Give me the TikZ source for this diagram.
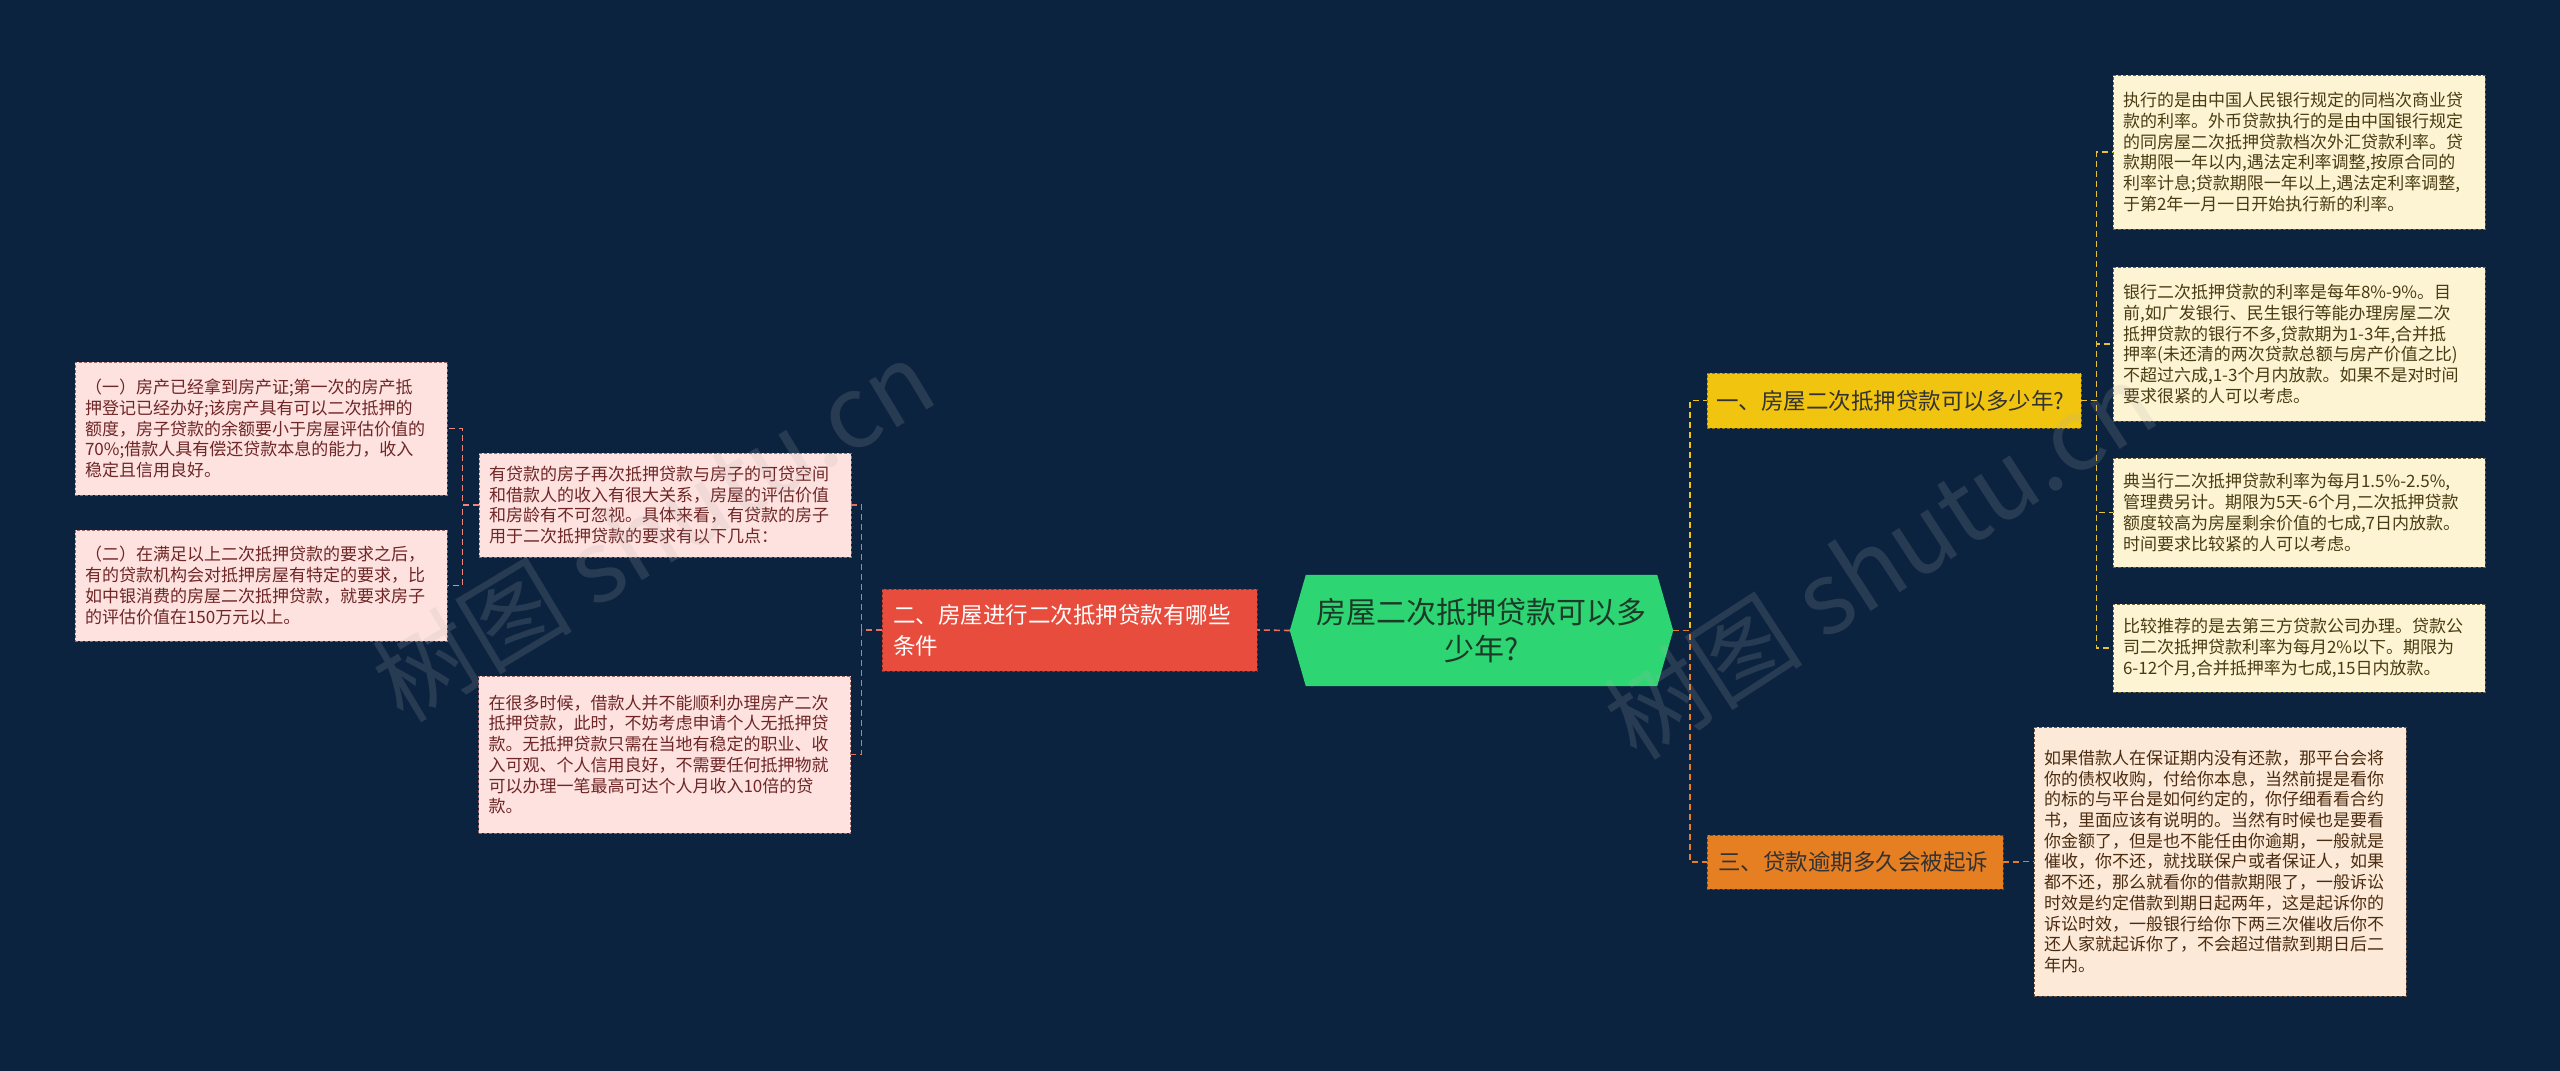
\documentclass[tikz,border=0pt]{standalone}
\usepackage{fontspec}
\setmainfont{Noto Sans CJK SC}
\usetikzlibrary{backgrounds}
\definecolor{bgnavy}{HTML}{0C2340}
\definecolor{rootgreen}{HTML}{2ED573}
\definecolor{roottext}{HTML}{1C3A28}
\definecolor{redfill}{HTML}{E74C3C}
\definecolor{redline}{HTML}{E8705F}
\definecolor{pinkfill}{HTML}{FDE2DF}
\definecolor{pinktext}{HTML}{6E2626}
\definecolor{yellowfill}{HTML}{F1C40F}
\definecolor{yellowline}{HTML}{E6C23A}
\definecolor{orangefill}{HTML}{E67E22}
\definecolor{creamfill}{HTML}{FDF4D3}
\definecolor{creamtext}{HTML}{4A3C12}
\definecolor{peachfill}{HTML}{FCE9D7}
\definecolor{peachtext}{HTML}{4B2C12}
\tikzset{
  leaf/.style={draw, dash pattern=on 3pt off 2pt, line width=0.9pt, inner xsep=10pt,
    inner ysep=0pt, text width=352pt, align=left, font=\fontsize{17}{20.7}\selectfont},
  leafpink/.style={leaf, fill=pinkfill, draw=pinktext!70, text=pinktext},
  leafcream/.style={leaf, fill=creamfill, draw=creamtext!80, text=creamtext},
  leafpeach/.style={leaf, fill=peachfill, draw=peachtext!80, text=peachtext},
  branch/.style={draw, dash pattern=on 3pt off 2pt, line width=0.9pt, inner ysep=0pt,
    align=left, font=\fontsize{22.5}{31}\selectfont},
  link/.style={line width=1.6pt, dash pattern=on 6pt off 4pt},
  watermark/.style={text=gray!60, opacity=0.17, font=\fontsize{100}{100}\selectfont},
}
\begin{document}
\begin{tikzpicture}[x=1pt, y=-1pt]
\useasboundingbox (0,0) rectangle (2560,1071);

% central topic
\node[minimum width=383pt, minimum height=111pt, text=roottext, align=center,
  font=\fontsize{30}{37.5}\selectfont] (root) at (1481.5,630.5)
  {房屋二次抵押贷款可以多\\少年?};

% main branches
\node[branch, fill=redfill, draw=redfill!60!black, text=white, minimum width=375pt,
  minimum height=82pt, inner xsep=11pt, text width=353pt] (cond) at (1069.5,630)
  {二、房屋进行二次抵押贷款有哪些\\条件};
\node[branch, fill=yellowfill, draw=yellowfill!60!black, text=black!80, minimum width=374pt,
  minimum height=55pt, inner xsep=9pt, text width=356pt] (years) at (1894,400.5)
  {一、房屋二次抵押贷款可以多少年?};
\node[branch, fill=orangefill, draw=orangefill!55!black, text=black!80, minimum width=296pt,
  minimum height=54pt, inner xsep=11pt, text width=274pt] (overdue) at (1855,862)
  {三、贷款逾期多久会被起诉};

% left side
\node[leafpink, minimum height=104pt] (intro) at (665,505)
  {有贷款的房子再次抵押贷款与房子的可贷空间\\和借款人的收入有很大关系，房屋的评估价值\\和房龄有不可忽视。具体来看，有贷款的房子\\用于二次抵押贷款的要求有以下几点：};
\node[leafpink, minimum height=157pt] (noloan) at (664.5,754.5)
  {在很多时候，借款人并不能顺利办理房产二次\\抵押贷款，此时，不妨考虑申请个人无抵押贷\\款。无抵押贷款只需在当地有稳定的职业、收\\入可观、个人信用良好，不需要任何抵押物就\\可以办理一笔最高可达个人月收入10倍的贷\\款。};
\node[leafpink, minimum height=133pt] (reqone) at (261,428.5)
  {（一）房产已经拿到房产证;第一次的房产抵\\押登记已经办好;该房产具有可以二次抵押的\\额度，房子贷款的余额要小于房屋评估价值的\\70\%;借款人具有偿还贷款本息的能力，收入\\稳定且信用良好。};
\node[leafpink, minimum height=111pt] (reqtwo) at (261,585.5)
  {（二）在满足以上二次抵押贷款的要求之后，\\有的贷款机构会对抵押房屋有特定的要求，比\\如中银消费的房屋二次抵押贷款，就要求房子\\的评估价值在150万元以上。};

% right side
\node[leafcream, minimum height=154pt] (rateA) at (2299,152)
  {执行的是由中国人民银行规定的同档次商业贷\\款的利率。外币贷款执行的是由中国银行规定\\的同房屋二次抵押贷款档次外汇贷款利率。贷\\款期限一年以内,遇法定利率调整,按原合同的\\利率计息;贷款期限一年以上,遇法定利率调整,\\于第2年一月一日开始执行新的利率。};
\node[leafcream, minimum height=154pt] (rateB) at (2299,344)
  {银行二次抵押贷款的利率是每年8\%-9\%。目\\前,如广发银行、民生银行等能办理房屋二次\\抵押贷款的银行不多,贷款期为1-3年,合并抵\\押率(未还清的两次贷款总额与房产价值之比)\\不超过六成,1-3个月内放款。如果不是对时间\\要求很紧的人可以考虑。};
\node[leafcream, minimum height=109pt] (rateC) at (2299,512.5)
  {典当行二次抵押贷款利率为每月1.5\%-2.5\%,\\管理费另计。期限为5天-6个月,二次抵押贷款\\额度较高为房屋剩余价值的七成,7日内放款。\\时间要求比较紧的人可以考虑。};
\node[leafcream, minimum height=88pt] (rateD) at (2299,648)
  {比较推荐的是去第三方贷款公司办理。贷款公\\司二次抵押贷款利率为每月2\%以下。期限为\\6-12个月,合并抵押率为七成,15日内放款。};
\node[leafpeach, minimum height=269pt] (sue) at (2220,861.5)
  {如果借款人在保证期内没有还款，那平台会将\\你的债权收购，付给你本息，当然前提是看你\\的标的与平台是如何约定的，你仔细看看合约\\书，里面应该有说明的。当然有时候也是要看\\你金额了，但是也不能任由你逾期，一般就是\\催收，你不还，就找联保户或者保证人，如果\\都不还，那么就看你的借款期限了，一般诉讼\\时效是约定借款到期日起两年，这是起诉你的\\诉讼时效，一般银行给你下两三次催收后你不\\还人家就起诉你了，不会超过借款到期日后二\\年内。};

% background and hexagon
\begin{scope}[on background layer]
\fill[bgnavy] (0,0) rectangle (2560,1071);
\fill[rootgreen] ([xshift=16pt]root.north west) -- ([xshift=-16pt]root.north east) -- (root.east)
  -- ([xshift=-16pt]root.south east) -- ([xshift=16pt]root.south west) -- (root.west) -- cycle;
\end{scope}

% connectors
\draw[link, redline] (root.west) -- (cond.east);
\foreach \n in {intro,noloan}
  \draw[link, redline] (cond.west) -- ++(-20,0) |- (\n.east);
\foreach \n in {reqone,reqtwo}
  \draw[link, redline!80!pinkfill] (intro.west) -- ++(-16,0) |- (\n.east);
\draw[link, yellowfill] (root.east) -- ++(17,0) |- (years.west);
\draw[link, orangefill] (root.east) -- ++(17,0) |- (overdue.west);
\foreach \n in {rateA,rateB,rateC,rateD}
  \draw[link, yellowline] (years.west) ++(374,0) -- ++(16,0) |- (\n.west);
\draw[link, orangefill] (overdue.east) -- ++(15,0) |- (sue.west);

% watermarks
\node[watermark, rotate=31] (wmleft) at (653,530) {树图 shutu.cn};
\node[watermark, rotate=33] (wmright) at (1880,560) {树图 shutu.cn};
\end{tikzpicture}
\end{document}
